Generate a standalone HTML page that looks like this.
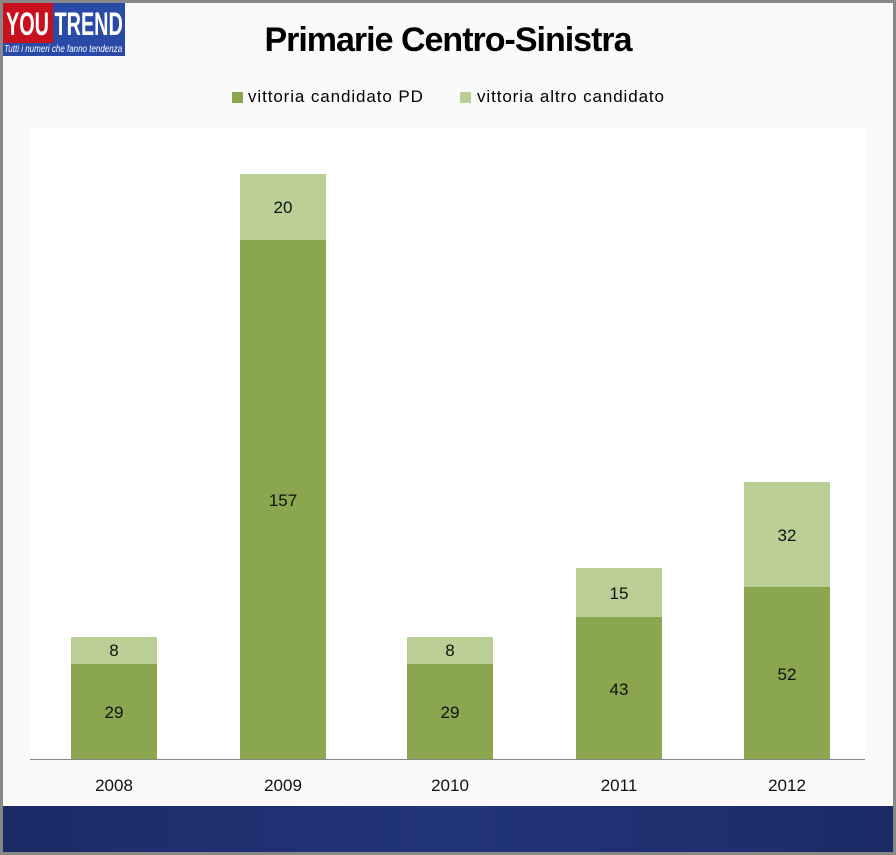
<!DOCTYPE html>
<html><head><style>
body{margin:0;width:896px;height:855px;overflow:hidden;font-family:"Liberation Sans",sans-serif}
#f{position:absolute;left:0;top:0;width:890px;height:849px;border:3px solid #888;background:#fafafa}
.b{position:absolute;width:86px}
.d{background:#8aa64e}.l{background:#b9cf95}
.t{position:absolute;width:86px;text-align:center;font-size:17px;color:#111}
.x{position:absolute;width:86px;text-align:center;font-size:17px;top:776px;color:#111}
</style></head><body>
<div id="f"></div>
<div style="position:absolute;left:30px;top:128px;width:835px;height:631px;background:#fff"></div>
<div style="position:absolute;left:3px;top:3px;width:122px;height:53px;background:#2a4aa8;overflow:hidden">
<div style="position:absolute;left:0;top:0;width:50px;height:40px;background:#c8101e"></div>
<div style="position:absolute;left:3px;top:3px;font-size:32px;font-weight:bold;color:#fff;white-space:nowrap;transform:scaleX(.62);transform-origin:left">YOU&nbsp;TREND</div>
<div style="position:absolute;left:1px;top:41px;font-size:10px;font-style:italic;color:#fff;white-space:nowrap;transform:scaleX(.8);transform-origin:left">Tutti i numeri che fanno tendenza</div>
</div>
<div style="position:absolute;left:0;width:896px;top:21px;text-align:center;font-size:34px;font-weight:bold;color:#000;letter-spacing:-1px">Primarie Centro-Sinistra</div>
<div style="position:absolute;left:232px;top:92px;width:11px;height:11px;background:#8aa64e"></div>
<div style="position:absolute;left:248px;top:87px;font-size:17px;letter-spacing:0.9px">vittoria candidato PD</div>
<div style="position:absolute;left:460px;top:92px;width:11px;height:11px;background:#b9cf95"></div>
<div style="position:absolute;left:477px;top:87px;font-size:17px;letter-spacing:0.9px">vittoria altro candidato</div>

<div class="b l" style="left:71px;top:637px;height:27px"></div><div class="b d" style="left:71px;top:664px;height:95px"></div>
<div class="t" style="left:71px;top:641px">8</div><div class="t" style="left:71px;top:703px">29</div>
<div class="b l" style="left:240px;top:174px;height:66px"></div><div class="b d" style="left:240px;top:240px;height:519px"></div>
<div class="t" style="left:240px;top:198px">20</div><div class="t" style="left:240px;top:491px">157</div>
<div class="b l" style="left:407px;top:637px;height:27px"></div><div class="b d" style="left:407px;top:664px;height:95px"></div>
<div class="t" style="left:407px;top:641px">8</div><div class="t" style="left:407px;top:703px">29</div>
<div class="b l" style="left:576px;top:568px;height:49px"></div><div class="b d" style="left:576px;top:617px;height:142px"></div>
<div class="t" style="left:576px;top:584px">15</div><div class="t" style="left:576px;top:680px">43</div>
<div class="b l" style="left:744px;top:482px;height:105px"></div><div class="b d" style="left:744px;top:587px;height:172px"></div>
<div class="t" style="left:744px;top:526px">32</div><div class="t" style="left:744px;top:665px">52</div>
<div style="position:absolute;left:30px;top:759px;width:835px;height:1px;background:#888"></div>
<div class="x" style="left:71px">2008</div><div class="x" style="left:240px">2009</div><div class="x" style="left:407px">2010</div><div class="x" style="left:576px">2011</div><div class="x" style="left:744px">2012</div>
<div style="position:absolute;left:3px;top:806px;width:890px;height:46px;background:linear-gradient(90deg,#1c2a66,#22347a 50%,#1c2a66)"></div>
</body></html>
